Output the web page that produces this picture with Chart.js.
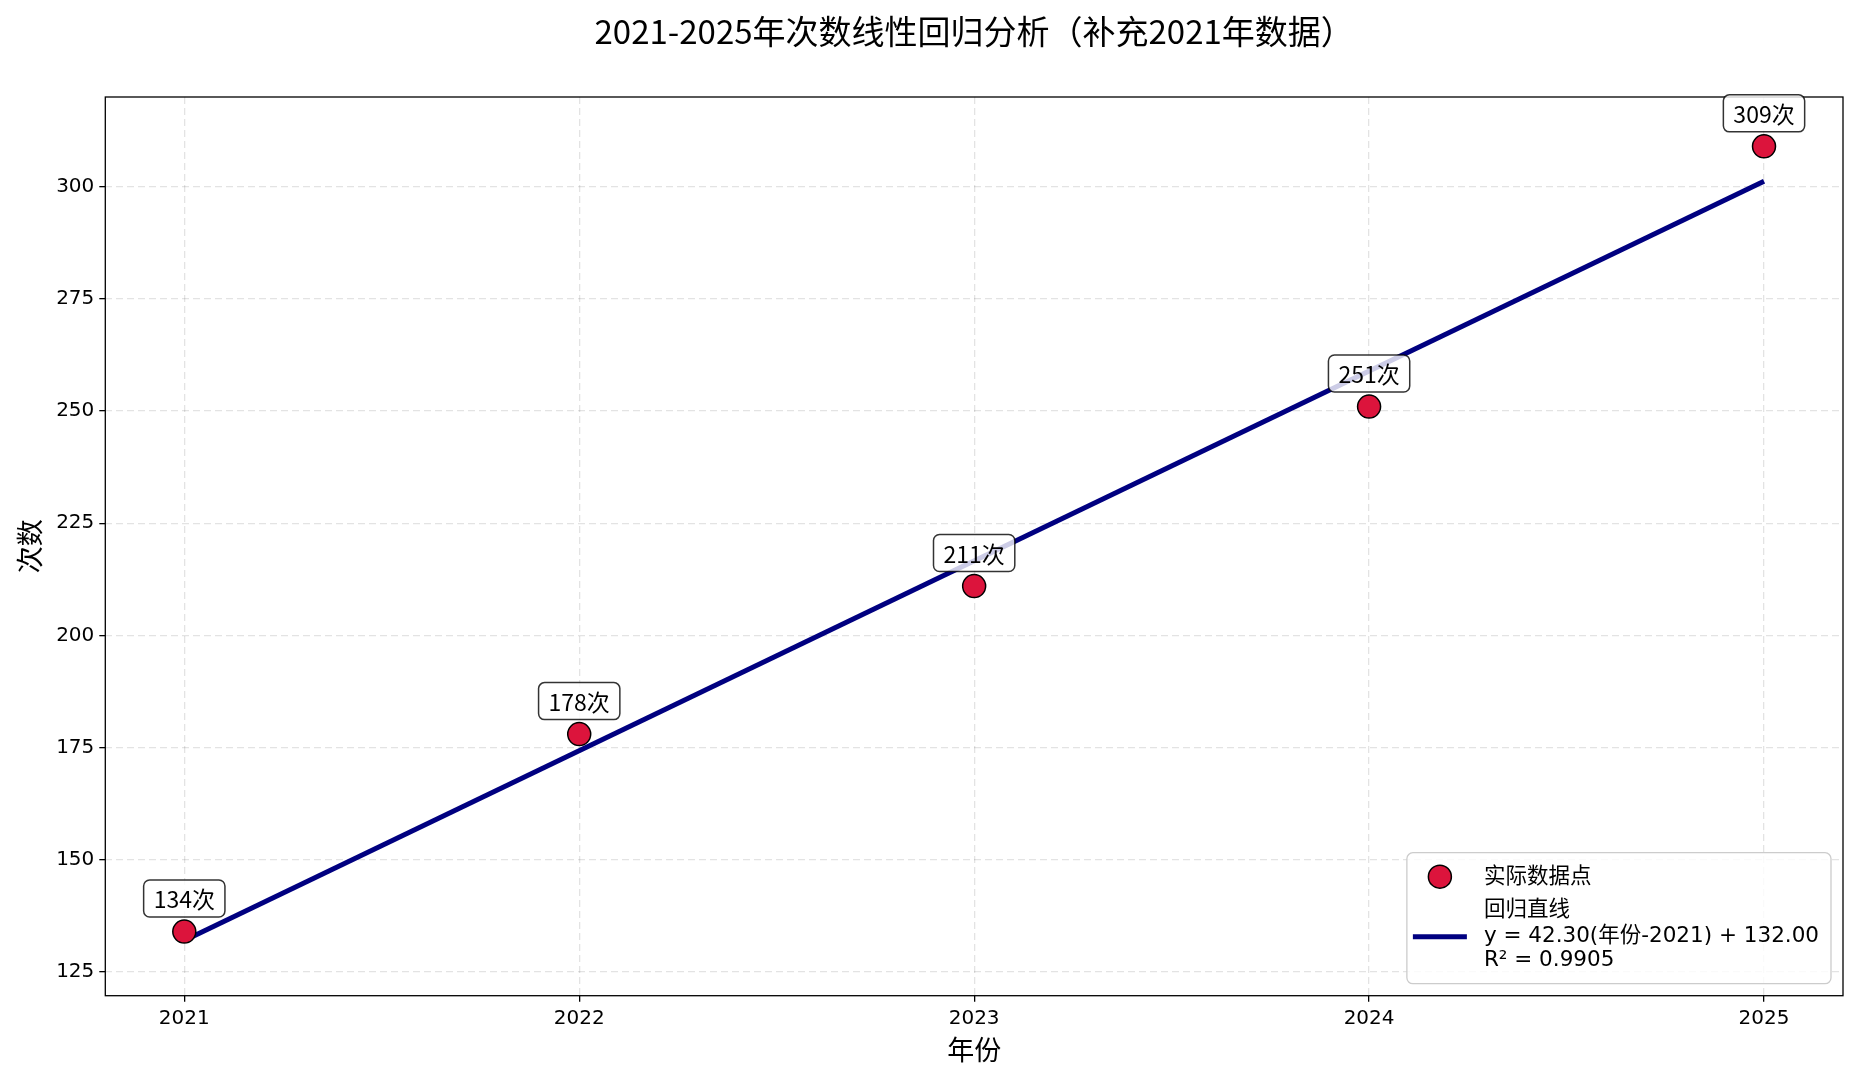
<!DOCTYPE html>
<html>
<head>
<meta charset="utf-8">
<script src="https://cdn.jsdelivr.net/npm/chart.js@4/dist/chart.umd.min.js"></script>
<style>
  html, body { margin: 0; padding: 0; background: #ffffff; }
  #wrap { width: 1858px; height: 1080px; }
</style>
</head>
<body>
<div id="wrap"><canvas id="c" width="1858" height="1080"></canvas></div>
<script>
// ---- data ----
const years = [2021, 2022, 2023, 2024, 2025];
const counts = [134, 178, 211, 251, 309];
const pointLabels = ['134次', '178次', '211次', '251次', '309次'];
const fitYears = [2021, 2025];
const fitValues = [132.00, 301.20];
const xTicks = [2021, 2022, 2023, 2024, 2025];
const yTicks = [125, 150, 175, 200, 225, 250, 275, 300];
const titleText = '2021-2025年次数线性回归分析（补充2021年数据）';
const xTitle = '年份';
const yTitle = '次数';
const legendPointLabel = '实际数据点';
const legendLineLabel = ['回归直线', 'y = 42.30(年份-2021) + 132.00', 'R² = 0.9905'];

const LATIN = '"DejaVu Sans", "Noto Sans CJK SC", sans-serif';
const CJK = '"Noto Sans CJK SC", "DejaVu Sans", sans-serif';

const bgPlugin = {
  id: 'bg',
  beforeDraw(chart) {
    const ctx = chart.ctx;
    ctx.save();
    ctx.fillStyle = '#ffffff';
    ctx.fillRect(0, 0, chart.width, chart.height);
    ctx.restore();
  }
};

function roundRect(ctx, x, y, w, h, r) {
  ctx.beginPath();
  ctx.moveTo(x + r, y);
  ctx.lineTo(x + w - r, y);
  ctx.arcTo(x + w, y, x + w, y + r, r);
  ctx.lineTo(x + w, y + h - r);
  ctx.arcTo(x + w, y + h, x + w - r, y + h, r);
  ctx.lineTo(x + r, y + h);
  ctx.arcTo(x, y + h, x, y + h - r, r);
  ctx.lineTo(x, y + r);
  ctx.arcTo(x, y, x + r, y, r);
  ctx.closePath();
}

const overlayPlugin = {
  id: 'overlay',
  afterDraw(chart) {
    const ctx = chart.ctx;
    const xs = chart.scales.x, ys = chart.scales.y;
    const area = chart.chartArea;
    ctx.save();
    ctx.setLineDash([]);
    // frame (all four spines)
    ctx.strokeStyle = '#000000';
    ctx.lineWidth = 1.3;
    ctx.strokeRect(area.left, area.top, area.right - area.left, area.bottom - area.top);

    // annotations
    ctx.font = '23px ' + CJK;
    ctx.textAlign = 'center';
    ctx.textBaseline = 'middle';
    for (let i = 0; i < years.length; i++) {
      const px = xs.getPixelForValue(years[i]);
      const py = ys.getPixelForValue(counts[i]);
      const tw = ctx.measureText(pointLabels[i]).width;
      const bw = tw + 20, bh = 37;
      const cy = py - 33;
      roundRect(ctx, px - bw / 2, cy - bh / 2, bw, bh, 6);
      ctx.fillStyle = 'rgba(255,255,255,0.8)';
      ctx.fill();
      ctx.strokeStyle = 'rgba(0,0,0,0.8)';
      ctx.lineWidth = 1.5;
      ctx.stroke();
      ctx.fillStyle = '#000000';
      ctx.fillText(pointLabels[i], px, cy + 1);
    }

    // legend
    ctx.font = '21.5px ' + LATIN;
    let maxW = ctx.measureText(legendPointLabel).width;
    legendLineLabel.forEach(t => { maxW = Math.max(maxW, ctx.measureText(t).width); });
    const lw = 77 + maxW + 12;
    const lh = 131;
    const lx = area.right - 12 - lw;
    const ly = area.bottom - 12 - lh;
    roundRect(ctx, lx, ly, lw, lh, 6);
    ctx.fillStyle = 'rgba(255,255,255,0.8)';
    ctx.fill();
    ctx.strokeStyle = '#cccccc';
    ctx.lineWidth = 1.3;
    ctx.stroke();

    // marker entry
    ctx.beginPath();
    ctx.arc(lx + 33, ly + 24, 11.5, 0, Math.PI * 2);
    ctx.fillStyle = '#DC143C';
    ctx.fill();
    ctx.strokeStyle = '#000000';
    ctx.lineWidth = 1.5;
    ctx.stroke();
    ctx.fillStyle = '#000000';
    ctx.textAlign = 'left';
    ctx.textBaseline = 'middle';
    ctx.fillText(legendPointLabel, lx + 77, ly + 25);

    // line entry
    ctx.beginPath();
    ctx.moveTo(lx + 6, ly + 84);
    ctx.lineTo(lx + 60, ly + 84);
    ctx.strokeStyle = '#000080';
    ctx.lineWidth = 5;
    ctx.stroke();
    const rows = [58, 84, 108];
    legendLineLabel.forEach((t, k) => {
      ctx.fillText(t, lx + 77, ly + rows[k]);
    });
    ctx.restore();
  }
};

const gridOpts = {
  color: 'rgba(0,0,0,0.11)',
  lineWidth: 1.3,
  borderDash: [7, 4],
  tickColor: '#000000',
  tickLength: 6,
  tickWidth: 1.3,
  tickBorderDash: []
};
const borderOpts = { display: false, color: '#000000', width: 1.3, dash: [7, 4] };

const ctx = document.getElementById('c').getContext('2d');
new Chart(ctx, {
  type: 'scatter',
  data: {
    datasets: [
      {
        label: legendPointLabel,
        data: years.map((y, i) => ({ x: y, y: counts[i] })),
        backgroundColor: '#DC143C',
        borderColor: '#000000',
        borderWidth: 1.5,
        pointRadius: 11.5,
        pointHoverRadius: 11.5,
        order: 0
      },
      {
        type: 'line',
        label: legendLineLabel.join('\n'),
        data: fitYears.map((y, i) => ({ x: y, y: fitValues[i] })),
        borderColor: '#000080',
        backgroundColor: '#000080',
        borderWidth: 5,
        pointRadius: 0,
        fill: false,
        showLine: true,
        tension: 0,
        order: 1
      }
    ]
  },
  options: {
    responsive: false,
    animation: false,
    devicePixelRatio: 1,
    layout: { padding: { left: 0, right: 15, top: 0, bottom: 0 } },
    plugins: {
      legend: { display: false },
      tooltip: { enabled: false },
      title: {
        display: true,
        text: titleText,
        fullSize: false,
        color: '#000000',
        font: { family: CJK, size: 33, weight: 'normal', lineHeight: 1.2 },
        padding: { top: 12, bottom: 45.4 }
      }
    },
    scales: {
      x: {
        type: 'linear',
        position: 'bottom',
        min: 2020.8,
        max: 2025.2,
        afterBuildTicks: (s) => { s.ticks = xTicks.map(v => ({ value: v })); },
        afterFit: (s) => { s.height = 84.3; },
        ticks: {
          color: '#000000',
          font: { family: LATIN, size: 20 },
          padding: 5,
          callback: (v) => String(v)
        },
        grid: gridOpts,
        border: borderOpts,
        title: {
          display: true,
          text: xTitle,
          color: '#000000',
          font: { family: CJK, size: 27, lineHeight: 1.2 },
          padding: { top: 0, bottom: 13.8 }
        }
      },
      y: {
        type: 'linear',
        position: 'left',
        min: 119.7,
        max: 320,
        afterBuildTicks: (s) => { s.ticks = yTicks.map(v => ({ value: v })); },
        afterFit: (s) => { s.width = 105.3; },
        ticks: {
          color: '#000000',
          font: { family: LATIN, size: 20 },
          padding: 5,
          callback: (v) => String(v)
        },
        grid: gridOpts,
        border: borderOpts,
        title: {
          display: true,
          text: yTitle,
          color: '#000000',
          font: { family: CJK, size: 27, lineHeight: 1.2 },
          padding: { top: 13.8, bottom: 0 }
        }
      }
    }
  },
  plugins: [bgPlugin, overlayPlugin]
});
</script>
</body>
</html>
